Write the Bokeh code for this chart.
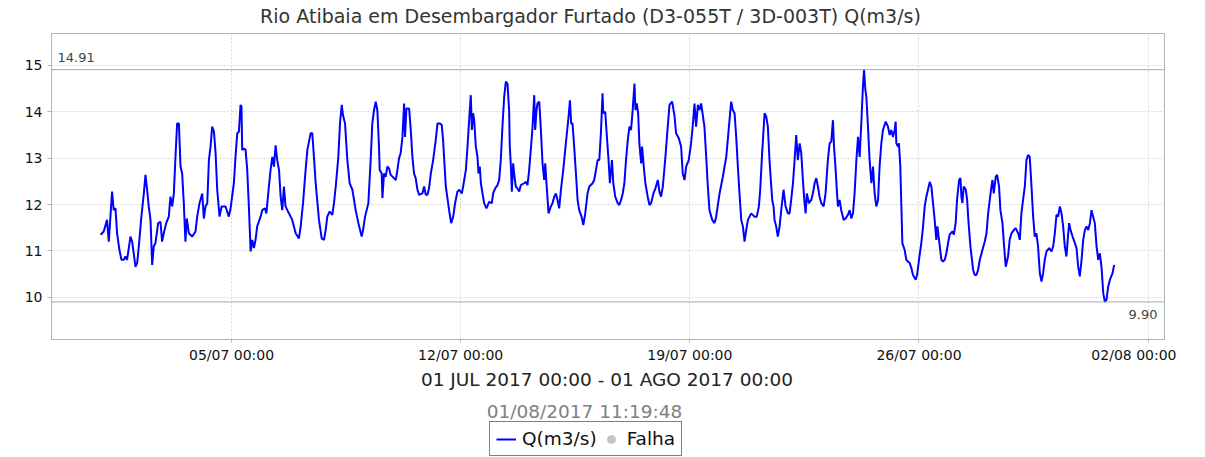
import pandas as pd
from bokeh.plotting import figure
from bokeh.layouts import column
from bokeh.models import (Label, Span, Legend, LegendItem, FixedTicker,
                          DatetimeTickFormatter, Range1d)
from bokeh.embed import file_html
from bokeh.resources import INLINE

# ---------------- data ----------------
title_text = "Rio Atibaia em Desembargador Furtado (D3-055T / 3D-003T) Q(m3/s)"
period_text = "01 JUL 2017 00:00 - 01 AGO 2017 00:00"
stamp_text = "01/08/2017 11:19:48"
series_name = "Q(m3/s)"
fail_name = "Falha"
start_time = "2017-07-01 00:00"

# hours since 01/07/2017 00:00
hours = [
    0.0, 2.3, 4.7, 6.0, 7.2, 8.4, 9.6, 10.9, 12.1, 13.8, 15.3, 17.0, 18.2, 19.4, 21.9, 23.1,
    24.3, 25.5, 26.8, 28.0, 29.9, 31.7, 32.9, 34.1, 35.3, 36.6, 37.8, 39.0, 40.2, 42.2, 43.9,
    45.1, 46.3, 48.1, 50.0, 51.2, 52.5, 53.7, 54.9, 56.1, 57.4, 58.6, 59.8, 61.0, 62.2, 63.2,
    64.7, 67.1, 69.6, 70.8, 72.5, 74.5, 75.7, 76.9, 78.2, 79.4, 80.6, 81.8, 83.1, 84.3, 85.5,
    87.2, 88.7, 91.6,
    94.0, 95.3, 97.7, 98.9, 100.2, 101.4, 102.6, 103.3, 103.8, 105.1, 106.3, 107.5, 108.7,
    110.0, 111.2, 112.4, 113.6, 114.8, 117.3, 118.5, 120.5, 121.5, 123.4, 124.6, 125.9, 127.1,
    128.3, 129.5, 130.8, 132.0, 133.2, 134.4, 135.6, 136.9, 138.1, 140.5, 143.0, 145.4, 146.7,
    148.4, 150.3, 151.6, 154.0, 155.2, 156.4, 157.7, 160.1, 162.1, 163.8, 165.0, 166.2, 167.9,
    169.9, 171.1, 172.4, 174.3, 175.5, 176.8, 177.7, 179.2, 180.9, 182.6, 184.6, 187.0,
    189.0, 191.4, 192.4, 193.9, 196.3, 198.0, 199.2, 200.5, 201.7, 202.9, 204.1, 204.6, 206.1,
    206.6, 207.8, 209.0, 210.2, 211.5, 212.7, 215.1, 216.4, 217.6, 218.8, 220.0, 221.3, 222.5,
    223.2, 224.2, 226.2, 227.4, 228.6, 229.8, 231.0, 232.3, 233.5, 235.9, 237.2, 238.4, 239.6,
    240.8, 242.1, 243.8, 245.7, 247.0, 248.7, 250.1, 251.1, 251.8, 253.1, 254.3, 255.5, 257.0,
    258.5, 259.9, 261.6, 262.9, 264.8, 265.8, 267.8, 269.0, 270.2, 271.4, 272.2, 273.1, 273.9,
    275.1, 276.3, 277.1, 278.0, 278.8, 280.0, 281.2, 282.9,
    284.8, 286.8, 287.8, 289.3, 291.0, 292.2, 293.4, 294.6, 295.9, 297.1, 298.3, 299.5, 300.0,
    300.8, 301.5, 302.5, 303.2, 304.4, 305.6, 306.9, 308.1, 310.5, 311.8, 313.0, 314.2, 315.4,
    316.7, 317.9, 318.6, 319.6, 320.3, 321.6, 322.8, 324.0, 325.2, 326.0, 326.9, 328.4, 330.1,
    331.3, 332.6, 333.8, 335.0, 336.2, 337.5, 339.2, 341.1, 343.1, 344.1, 345.0, 346.0, 347.2,
    348.5, 349.7, 350.9, 352.6, 353.9, 355.3, 357.0, 358.3, 360.7, 361.9, 363.2, 364.4, 365.6,
    366.8, 368.0, 368.5, 370.0, 371.0, 372.4, 373.4, 374.9, 375.9, 377.3,
    379.1, 380.3, 381.6, 382.8, 384.0, 385.2, 386.5, 387.7, 388.9, 390.1, 391.4, 392.1, 393.1,
    394.1, 395.0, 396.3, 397.0, 398.0, 399.4, 401.1, 402.4, 403.6, 405.3, 406.8, 408.5, 409.7,
    410.9, 412.2, 414.1, 415.8, 417.1, 419.0, 420.7, 421.9, 423.9, 425.6, 426.8, 428.1, 429.3,
    431.2, 432.9, 434.2, 435.4, 436.6, 437.9, 439.1, 440.3, 441.5, 442.7, 444.0, 445.2, 446.4,
    448.4, 450.1, 451.3, 453.8, 456.2, 458.7, 461.1, 462.3, 463.5, 464.8, 466.0, 467.2, 468.4,
    469.7, 470.9, 472.1, 473.3, 474.6, 475.8, 477.0,
    479.4, 481.1, 482.6, 483.6, 485.0, 486.8, 488.0, 489.2, 490.4, 491.7, 492.4, 493.4, 494.1,
    495.3, 496.5, 497.8, 499.0, 500.7, 502.2, 503.9, 505.1, 506.3, 507.6, 508.8, 510.0, 511.2,
    512.5, 513.7, 514.9, 516.1, 516.9, 517.8, 519.3, 521.0, 522.2, 523.5, 524.7, 525.9, 527.1,
    528.4, 530.1, 531.5, 533.2, 534.5, 535.7, 536.9, 537.7, 538.9, 539.9, 540.6, 541.8, 543.0,
    544.8, 546.2, 547.9, 549.2, 550.4, 551.6, 552.8, 554.1, 555.3, 556.5, 557.7, 558.9, 559.7,
    560.7, 561.4, 562.6, 563.8, 565.1, 566.3, 567.5, 568.7, 570.0,
    571.1, 572.4, 573.6, 575.6, 577.3, 578.5, 579.7, 580.9, 582.2, 582.9, 583.4, 584.6, 585.3,
    586.3, 587.1, 587.8, 589.5, 590.7, 591.9, 593.2, 594.4, 595.6, 597.6, 598.6, 600.0, 601.7,
    603.0, 604.2, 605.4, 606.6, 607.9, 609.1, 610.3, 611.5, 612.7, 613.5, 614.7, 616.4, 617.6,
    618.9, 620.1, 621.3, 622.5, 624.5, 625.5, 626.9, 627.9, 629.4, 630.4, 631.1, 631.8, 632.8,
    634.3, 635.3, 636.2, 637.7, 639.7, 640.9, 642.1, 643.3, 644.6, 646.5, 648.2, 649.5, 650.7,
    651.9, 653.1, 653.9, 654.8, 656.3, 657.3, 658.7, 659.7, 661.2, 662.4, 663.6,
    665.3, 666.5, 667.8, 669.5, 670.9, 672.7, 673.9, 675.1, 676.3, 677.6, 678.8, 680.0, 681.2,
    682.5, 683.7, 684.9, 686.1, 687.3, 688.6, 689.8, 691.0, 692.2, 693.5, 695.4, 697.1, 698.4,
    699.6, 700.8, 702.0, 703.3, 704.5, 705.7, 706.9, 708.1, 709.4, 710.1, 711.1, 712.6, 714.3,
    715.5, 716.7, 717.9, 719.2, 720.4, 721.6, 722.8, 724.1, 725.3, 726.5, 727.7, 728.9, 730.2,
    731.4, 732.6, 733.8, 735.1, 736.3, 737.5, 738.7, 740.0, 741.9, 743.1,
]

q = [
    11.35, 11.42, 11.67, 11.20, 11.74, 12.28, 11.88, 11.92, 11.38, 11.02, 10.81, 10.81, 10.88, 10.81, 11.31, 11.20,
    10.95, 10.66, 10.74, 11.10, 11.74, 12.24, 12.64, 12.32, 11.96, 11.67, 10.70, 11.10, 11.17, 11.60, 11.63,
    11.20, 11.38, 11.60, 11.74, 12.17, 11.96, 12.24, 13.03, 13.75, 13.75, 12.82, 12.67, 12.03, 11.20, 11.70,
    11.38, 11.31, 11.42, 11.74, 12.03, 12.24, 11.70, 11.96, 12.03, 12.96, 13.25, 13.68, 13.57, 13.11, 12.32,
    11.74, 11.96, 11.96,
    11.74, 11.92, 12.46, 13.03, 13.54, 13.57, 14.15, 14.11, 13.18, 13.21, 13.18, 12.75, 11.96,
    10.99, 11.24, 11.06, 11.24, 11.53, 11.74, 11.88, 11.92, 11.81, 12.39, 12.75, 13.03, 12.82,
    13.28, 12.96, 12.75, 12.17, 11.88, 12.39, 11.96, 11.88, 11.81, 11.67, 11.38, 11.27, 11.53,
    12.03, 12.75, 13.18, 13.54, 13.54, 13.03, 12.46, 11.67, 11.27, 11.24, 11.45, 11.74, 11.85,
    11.78, 12.03, 12.39, 13.03, 13.75, 14.15, 13.93, 13.75, 12.96, 12.46, 12.32, 11.88,
    11.60, 11.31, 11.45, 11.74, 12.03, 12.96, 13.75, 14.04, 14.22, 14.04, 13.25, 12.75, 12.67,
    12.14, 12.67, 12.60, 12.82, 12.78, 12.64, 12.57, 12.53, 12.75, 13.00, 13.11, 13.46, 14.18,
    13.46, 14.07, 14.07, 13.61, 13.03, 12.67, 12.57, 12.32, 12.21, 12.24, 12.39, 12.21, 12.21,
    12.35, 12.67, 12.96, 13.39, 13.75, 13.75, 13.72, 13.39, 13.03, 12.39, 12.14, 11.88, 11.60,
    11.74, 12.03, 12.28, 12.32, 12.24, 12.39, 12.75, 13.25, 13.82, 14.36, 13.61, 13.97, 13.82,
    13.25, 13.03, 12.67, 12.82, 12.46, 12.24, 12.03, 11.92,
    12.06, 12.03, 12.24, 12.35, 12.42, 12.53, 12.96, 13.68, 14.33, 14.65, 14.61, 14.04, 13.25,
    12.82, 12.28, 12.89, 12.67, 12.39, 12.35, 12.28, 12.42, 12.46, 12.49, 12.42, 12.75, 13.18,
    13.68, 14.36, 13.61, 14.04, 14.18, 14.22, 13.61, 12.89, 12.53, 12.89, 12.46, 11.81, 11.96,
    12.03, 12.17, 12.24, 12.10, 11.92, 12.32, 12.75, 13.32, 13.90, 14.25, 13.75, 13.75, 13.25,
    12.67, 12.10, 11.88, 11.74, 11.56, 11.81, 12.24, 12.39, 12.46, 12.53, 12.75, 12.96, 12.96,
    13.54, 14.40, 13.97, 14.00, 13.54, 12.96, 12.46, 12.96, 12.46, 12.17,
    12.03, 11.99, 12.10, 12.24, 12.46, 12.96, 13.39, 13.68, 13.61, 14.04, 14.61, 14.04, 14.18,
    13.97, 13.32, 12.89, 13.25, 12.89, 12.46, 12.17, 11.99, 12.03, 12.24, 12.35, 12.53, 12.28,
    12.17, 12.39, 13.03, 13.68, 14.15, 14.22, 13.93, 13.54, 13.43, 13.25, 12.67, 12.53, 12.82,
    12.96, 13.32, 13.72, 14.18, 13.68, 14.15, 14.04, 14.18, 13.93, 13.68, 13.03, 12.39, 11.88,
    11.67, 11.60, 11.74, 12.24, 12.60, 13.03, 13.82, 14.22, 14.04, 13.97, 13.46, 12.82, 12.24,
    11.67, 11.53, 11.20, 11.45, 11.67, 11.74, 11.81,
    11.74, 11.74, 11.96, 12.32, 13.11, 13.97, 13.90, 13.68, 12.96, 12.39, 12.10, 11.96, 11.67,
    11.53, 11.31, 11.53, 11.88, 12.32, 11.96, 11.81, 11.81, 12.10, 12.46, 12.96, 13.50, 12.96,
    13.32, 13.11, 12.53, 12.03, 11.81, 12.24, 12.03, 12.10, 12.24, 12.46, 12.57, 12.39, 12.17,
    12.03, 11.96, 12.24, 12.96, 13.32, 13.36, 13.82, 13.25, 12.75, 12.24, 11.96, 12.10, 11.88,
    11.67, 11.70, 11.78, 11.88, 11.70, 11.81, 12.24, 12.96, 13.46, 13.03, 13.75, 14.54, 14.91,
    14.47, 14.33, 13.68, 12.96, 12.46, 12.82, 12.24, 11.96, 12.10,
    12.82, 13.32, 13.61, 13.79, 13.68, 13.50, 13.61, 13.46, 13.61, 13.79, 13.32, 13.25, 13.32,
    12.82, 11.96, 11.17, 11.02, 10.81, 10.77, 10.74, 10.63, 10.48, 10.38, 10.48, 10.81, 11.17,
    11.53, 11.96, 12.17, 12.32, 12.49, 12.39, 12.03, 11.67, 11.24, 11.53, 11.24, 10.81, 10.77,
    10.81, 10.95, 11.17, 11.35, 11.42, 11.35, 11.60, 12.10, 12.53, 12.57, 12.17, 12.03, 12.39,
    12.32, 12.10, 11.67, 11.10, 10.59, 10.48, 10.48, 10.59, 10.81, 11.02, 11.20, 11.38, 11.81,
    12.10, 12.39, 12.53, 12.24, 12.60, 12.64, 12.39, 11.88, 11.60, 11.10, 10.66,
    10.88, 11.24, 11.38, 11.45, 11.49, 11.38, 11.24, 11.81, 12.10, 12.39, 12.96, 13.07, 13.03,
    12.39, 11.74, 11.31, 11.38, 11.10, 10.52, 10.34, 10.52, 10.81, 10.99, 11.06, 10.99, 11.10,
    11.38, 11.78, 11.74, 11.96, 11.81, 11.53, 11.10, 10.88, 11.38, 11.60, 11.45, 11.31, 11.17,
    11.06, 10.66, 10.45, 10.81, 11.24, 11.45, 11.53, 11.45, 11.60, 11.88, 11.74, 11.60, 11.10,
    10.81, 10.95, 10.66, 10.09, 9.90, 9.95, 10.23, 10.38, 10.52, 10.70,
]

ref_values = [14.91, 9.90]          # max / min marked on the chart
ref_labels = ["14.91", "9.90"]
y_ticks = [10, 11, 12, 13, 14, 15]
x_tick_dates = ["2017-07-05", "2017-07-12", "2017-07-19", "2017-07-26", "2017-08-02"]
x_start, x_end = "2017-06-29 12:00", "2017-08-02 12:00"
y_start, y_end = 9.09, 15.69

# ---------------- figures ----------------
FONT = "DejaVu Sans"
W = 1176
LINE_COLOR = "#0000ff"
FAIL_COLOR = "#c4c4c4"


def strip(height):
    f = figure(width=W, height=height, output_backend="svg", toolbar_location=None,
               x_range=Range1d(0, 1), y_range=Range1d(0, 1),
               x_axis_location=None, y_axis_location=None,
               min_border=0, min_border_left=0, min_border_right=0,
               min_border_top=0, min_border_bottom=0)
    f.outline_line_color = None
    f.xgrid.visible = False
    f.ygrid.visible = False
    f.background_fill_color = "white"
    f.border_fill_color = "white"
    return f


def label(f, text, x, y, size, color, align="center"):
    f.add_layout(Label(x=x, y=y, x_units="screen", y_units="screen", text=text,
                       text_align=align, text_baseline="alphabetic",
                       text_font=FONT, text_font_size=size, text_color=color))


# --- title strip (frame aligned with the chart's frame) ---
top = strip(33)
label(top, title_text, 539, 17.3, "19px", "#333333")

# --- main chart ---
times = pd.Timestamp(start_time) + pd.to_timedelta(hours, unit="h")
p = figure(width=W, height=332, output_backend="svg", toolbar_location=None,
           x_axis_type="datetime",
           x_range=Range1d(pd.Timestamp(x_start), pd.Timestamp(x_end)),
           y_range=Range1d(y_start, y_end),
           min_border_left=51, min_border_right=12, min_border_top=0, min_border_bottom=25)
p.outline_line_color = "#b4b4b4"
p.background_fill_color = "white"
p.border_fill_color = "white"

p.line(times, q, line_color=LINE_COLOR, line_width=2)

for v in ref_values:
    p.add_layout(Span(location=v, dimension="width", line_color="#a8a8a8", line_width=1))

tick_ms = [pd.Timestamp(d).value / 1e6 for d in x_tick_dates]
p.xaxis.ticker = FixedTicker(ticks=tick_ms)
fmt = "%d/%m %H:%M"
p.xaxis.formatter = DatetimeTickFormatter(days=fmt, months=fmt, hours=fmt, hourmin=fmt,
                                          years=fmt, minutes=fmt, minsec=fmt, seconds=fmt)
p.yaxis.ticker = FixedTicker(ticks=y_ticks)

for ax in (p.xaxis[0], p.yaxis[0]):
    ax.axis_line_color = "#b4b4b4"
    ax.major_tick_line_color = "#b4b4b4"
    ax.minor_tick_line_color = None
    ax.major_tick_in = 0
    ax.major_label_text_font = FONT
    ax.major_label_text_color = "#111111"
p.xaxis.major_tick_out = 3
p.xaxis.major_label_standoff = 4
p.xaxis.major_label_text_font_size = "14px"
p.yaxis.major_tick_out = 4
p.yaxis.major_label_standoff = 5
p.yaxis.major_label_text_font_size = "14px"

for g in (p.xgrid[0], p.ygrid[0]):
    g.grid_line_color = "#d6d6d6"
    g.grid_line_dash = "2 2"
    g.grid_line_width = 1
p.ygrid.ticker = FixedTicker(ticks=y_ticks)

label(p, ref_labels[0], 6, 282, "13px", "#444444", "left")
label(p, ref_labels[1], 1106, 25, "13px", "#444444", "right")

# --- bottom strip: period, timestamp, legend ---
bot = strip(92)
label(bot, period_text, 555.5, 78, "18.5px", "#222222")
label(bot, stamp_text, 533, 46, "18.5px", "#808080")

# legend sample glyphs (single point placed outside the strip's range)
leg_line = bot.line(x=[-5, -4], y=[-5, -5], line_color=LINE_COLOR, line_width=2)
leg_fail = bot.scatter(x=[-5], y=[-5], size=10, marker="circle",
                       fill_color=FAIL_COLOR, line_color=FAIL_COLOR)
legend = Legend(items=[LegendItem(label=series_name, renderers=[leg_line]),
                       LegendItem(label=fail_name, renderers=[leg_fail])],
                orientation="horizontal", location=(438, 1),
                border_line_color="black", border_line_width=1,
                padding=6, spacing=4, glyph_width=20, glyph_height=20,
                label_standoff=6, label_text_font=FONT, label_text_font_size="18.5px",
                label_text_color="#111111", margin=0, background_fill_color="white",
                background_fill_alpha=1)
bot.add_layout(legend)

layout = column(top, p, bot, spacing=0)
open("out.html", "w").write(file_html(layout, INLINE))
